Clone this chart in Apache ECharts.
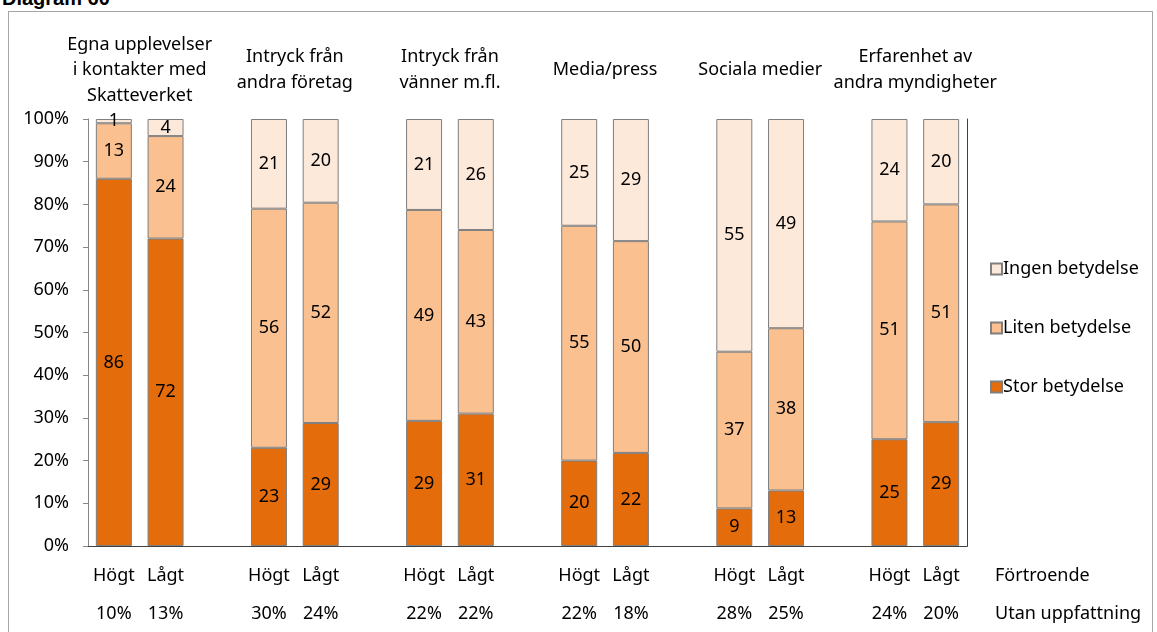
<!DOCTYPE html>
<html>
<head>
<meta charset="utf-8">
<script src="https://cdn.jsdelivr.net/npm/echarts@6/dist/echarts.min.js"></script>
<style>
  html, body { margin: 0; padding: 0; background: #fff; overflow: hidden; }
  .title {
    position: absolute; left: 2px; top: -13px;
    font-family: "Liberation Sans", Arial, sans-serif;
    font-weight: bold; font-size: 20px; color: #000;
  }
  .frame {
    position: absolute; left: 8px; top: 11px; width: 1143px; height: 640px;
    border: 1px solid #a6a6a6; pointer-events: none;
  }
  #chart { position: absolute; left: 0; top: 0; width: 1157px; height: 632px; }
</style>
</head>
<body>
<div class="title">Diagram 60</div>
<div class="frame"></div>
<div id="chart"></div>

<script>
// grupper (rubriker ovanför staplarna)
const groups = [
  "Egna upplevelser\ni kontakter med\nSkatteverket",
  "Intryck från\nandra företag",
  "Intryck från\nvänner m.fl.",
  "Media/press",
  "Sociala medier",
  "Erfarenhet av\nandra myndigheter",
];
const trust = ["Högt", "Lågt"];
// andel utan uppfattning, per stapel
const noOpinion = ["10%", "13%", "30%", "24%", "22%", "22%", "22%", "18%", "28%", "25%", "24%", "20%"];

// värden per stapel (Högt, Lågt för varje grupp)
const stor  = [86, 72, 23, 28.8, 29.3, 31, 20, 21.8, 8.8, 13, 25, 29];
const liten = [13, 24, 56, 51.6, 49.4, 43, 55, 49.6, 36.7, 38, 51, 51];
const ingen = [1, 4, 21, 19.6, 21.3, 26, 25, 28.6, 54.5, 49, 24, 20];

const yTicks = [0, 10, 20, 30, 40, 50, 60, 70, 80, 90, 100];

const font = "'Noto Sans', sans-serif";
const fs = 18;

// bygg kategorier med tomma mellanrum mellan grupperna
const categories = [];
const barIndex = [];
groups.forEach((g, gi) => {
  trust.forEach((t, ti) => {
    const k = gi * 2 + ti;
    barIndex.push(categories.length);
    categories.push(t + "\n\n" + noOpinion[k]);
  });
  if (gi < groups.length - 1) categories.push("");
});

function spread(values) {
  const out = categories.map(() => "-");
  values.forEach((v, i) => (out[barIndex[i]] = v));
  return out;
}

const myChart = echarts.init(document.getElementById("chart"));

const labelStyle = {
  show: true,
  position: "inside",
  color: "#000",
  fontFamily: font,
  fontSize: fs,
  formatter: (p) => Math.round(p.value),
};

function barSeries(name, values, color) {
  return {
    type: "bar",
    name: name,
    stack: "Total",
    barWidth: 36,
    data: spread(values),
    itemStyle: { color: color, borderColor: "#7f7f7f", borderWidth: 1 },
    label: labelStyle,
  };
}

myChart.setOption({
  animation: false,
  grid: { left: 88, top: 119, right: 190, bottom: 86 },
  legend: {
    orient: "vertical",
    left: 985,
    top: 255,
    itemWidth: 11,
    itemHeight: 11,
    itemGap: 41,
    icon: "rect",
    data: ["Ingen betydelse", "Liten betydelse", "Stor betydelse"],
    textStyle: { fontFamily: font, fontSize: fs, color: "#000", padding: [0, 0, 0, -4] },
  },
  xAxis: [
    {
      type: "category",
      data: categories,
      axisTick: { show: false },
      axisLine: { lineStyle: { color: "#404040", width: 1 } },
      axisLabel: {
        interval: 0,
        margin: 20,
        color: "#000",
        fontFamily: font,
        fontSize: fs,
        lineHeight: 19,
      },
    },
    {
      type: "category",
      position: "top",
      data: categories,
      axisTick: { show: false },
      axisLabel: { show: false },
      axisLine: { lineStyle: { color: "#404040", width: 1 } },
    },
  ],
  yAxis: [
    {
      type: "value",
      min: yTicks[0],
      max: yTicks[yTicks.length - 1],
      interval: 10,
      splitLine: { show: false },
      axisLine: { show: true, lineStyle: { color: "#868686" } },
      axisTick: { show: true, length: 5, lineStyle: { color: "#868686" } },
      axisLabel: {
        formatter: "{value}%",
        margin: 19,
        color: "#000",
        fontFamily: font,
        fontSize: fs,
      },
    },
    {
      type: "value",
      position: "right",
      min: 0,
      max: 100,
      splitLine: { show: false },
      axisLine: { show: true, lineStyle: { color: "#404040" } },
      axisTick: { show: false },
      axisLabel: { show: false },
    },
  ],
  series: [
    barSeries("Stor betydelse", stor, "#E46C0A"),
    barSeries("Liten betydelse", liten, "#FAC090"),
    barSeries("Ingen betydelse", ingen, "#FDE9D9"),
  ],
});

// gruppnamn ovanför och radetiketter till höger
const graphics = groups.map((g, gi) => {
  const x1 = myChart.convertToPixel({ xAxisIndex: 0 }, barIndex[gi * 2]);
  const x2 = myChart.convertToPixel({ xAxisIndex: 0 }, barIndex[gi * 2 + 1]);
  return {
    type: "text",
    x: (x1 + x2) / 2,
    y: 70,
    style: {
      text: g,
      align: "center",
      verticalAlign: "middle",
      font: fs + "px " + font,
      lineHeight: 25.5,
      fill: "#000",
    },
  };
});
const rightX = myChart.getWidth() - 190 + 28;
const baseY = myChart.convertToPixel({ yAxisIndex: 0 }, 0);
graphics.push(
  {
    type: "text", x: rightX, y: baseY + 30,
    style: { text: "Förtroende", font: fs + "px " + font, fill: "#000", verticalAlign: "middle" },
  },
  {
    type: "text", x: rightX, y: baseY + 68,
    style: { text: "Utan uppfattning", font: fs + "px " + font, fill: "#000", verticalAlign: "middle" },
  }
);
myChart.setOption({ graphic: graphics });
</script>
</body>
</html>
